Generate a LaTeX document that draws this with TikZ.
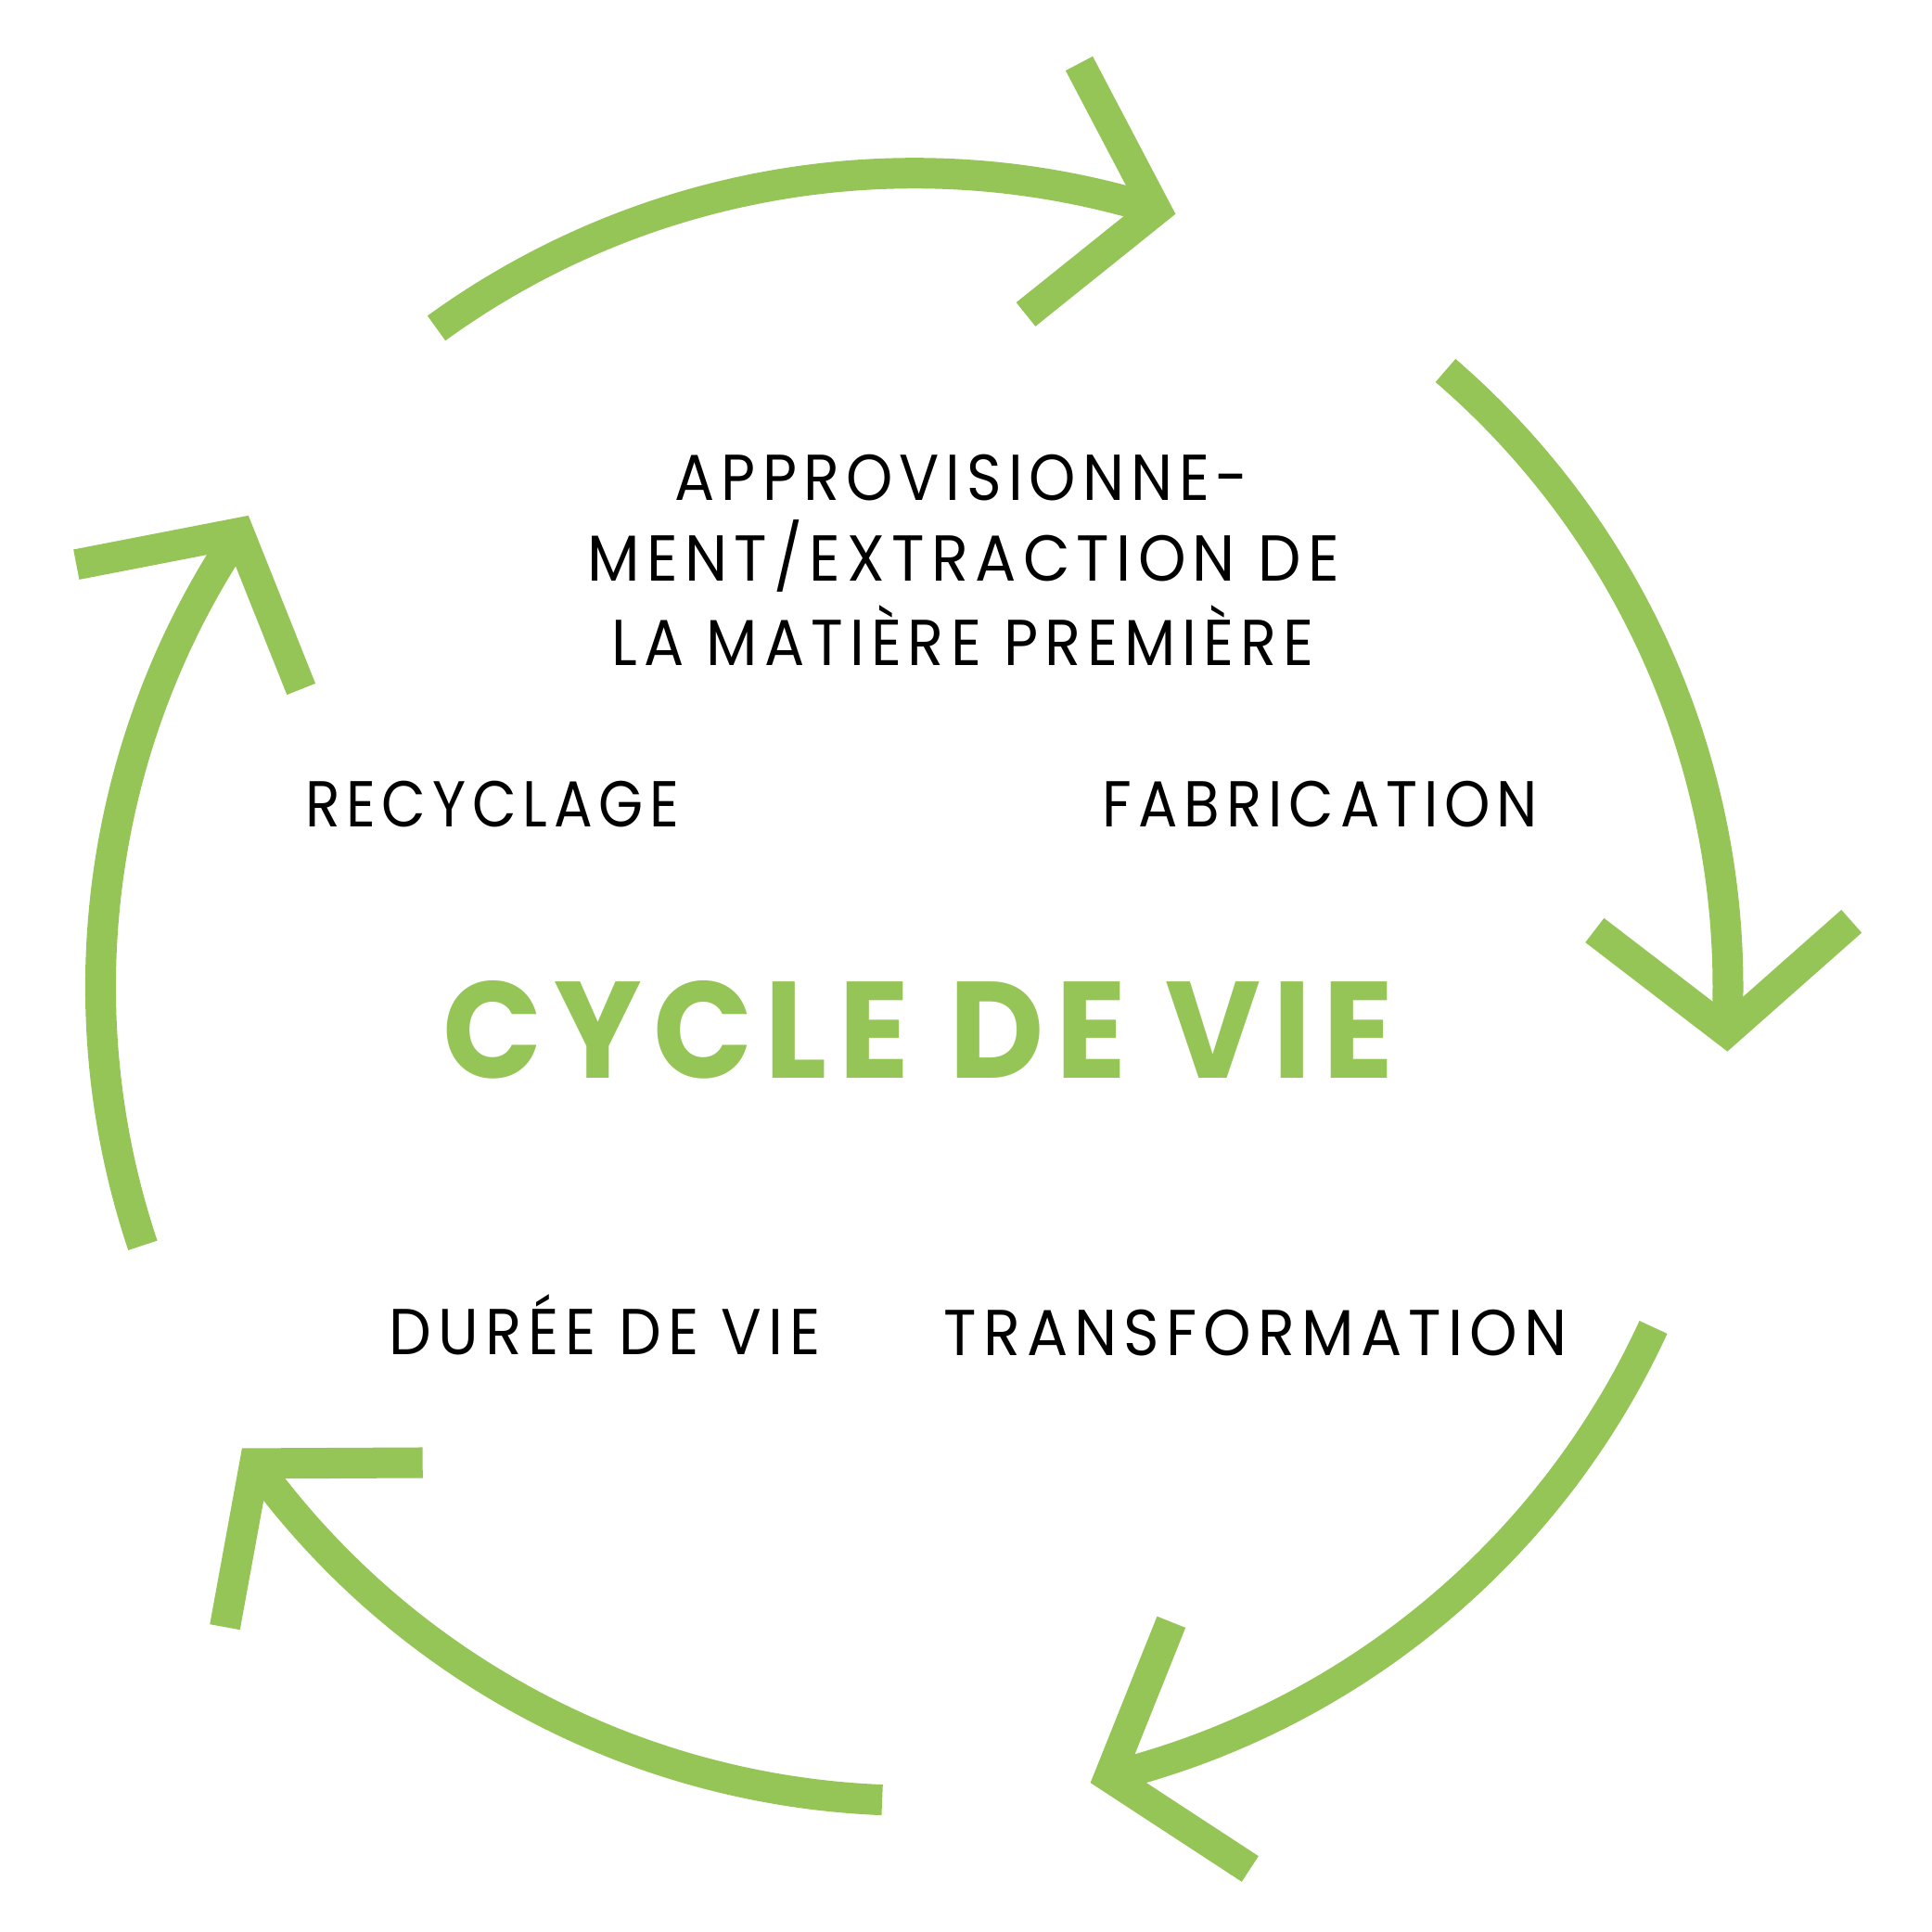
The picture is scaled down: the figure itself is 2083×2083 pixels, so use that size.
\documentclass[tikz,border=0pt]{standalone}
\usepackage{fontspec}
\usepackage{graphicx}
\setmainfont{Poppins}
\newfontfamily\lblfont[LetterSpace=11]{Poppins}
\newfontfamily\ttlfont[LetterSpace=9]{Poppins}
\definecolor{leaf}{RGB}{149,197,86}
\newcommand{\fitbox}[2]{\resizebox{#1}{\height}{#2}}
\begin{document}
\begin{tikzpicture}[x=0.01cm,y=0.01cm,
  arcline/.style={draw=leaf,line width=0.33cm,line cap=butt},
  headline/.style={arcline,line join=miter,miter limit=10},
  lbl/.style={inner sep=0pt,anchor=base,text=black,font=\lblfont\fontsize{19.9}{24}\selectfont},
  ttl/.style={inner sep=0pt,anchor=base,text=leaf,font=\ttlfont\bfseries\fontsize{42.1}{50}\selectfont}]
\useasboundingbox (0,0) rectangle (2083,2083);
\coordinate (C) at (985.7,1019);
% vertices of the arrow heads
\path (C) ++(72.71:8.768cm) coordinate (v1);
\path (C) ++(-3.155:8.768cm) coordinate (v2);
\path (C) ++(-76.13:8.768cm) coordinate (v3);
\path (C) ++(-144.14:8.768cm) coordinate (v4);
\path (C) ++(146.1:8.768cm) coordinate (v5);
% arm ends
\coordinate (a1) at (1163.5,2014.5); \coordinate (b1) at (1106,1744);
\coordinate (a2) at (1719.3,1080);   \coordinate (b2) at (1996.2,1089.7);
\coordinate (a3) at (1262.8,334.2);  \coordinate (b3) at (1347.8,68);
\coordinate (a4) at (455.7,506);     \coordinate (b4) at (242.5,328.8);
\coordinate (a5) at (82.3,1474.3);   \coordinate (b5) at (324.7,1340);
% arcs
\draw[arcline] (C) ++(125.96:8.768cm) arc[start angle=125.96,end angle=72.71,radius=8.768cm];
\draw[arcline] (C) ++(49.24:8.768cm) arc[start angle=49.24,end angle=-3.155,radius=8.768cm];
\draw[arcline] (C) ++(-24.73:8.768cm) arc[start angle=-24.73,end angle=-76.13,radius=8.768cm];
\draw[arcline] (C) ++(-92.26:8.768cm) arc[start angle=-92.26,end angle=-144.14,radius=8.768cm];
\draw[arcline] (C) ++(198.53:8.768cm) arc[start angle=198.53,end angle=146.1,radius=8.768cm];
% heads
\draw[headline] (a1) -- (v1) -- (b1);
\draw[headline] (a2) -- (v2) -- (b2);
\draw[headline] (a3) -- (v3) -- (b3);
\draw[headline] (a4) -- (v4) -- (b4);
\draw[headline] (a5) -- (v5) -- (b5);
% labels
\node[lbl] (t1) at (1037,1543.7) {\fitbox{6.18cm}{APPROVISIONNE-}};
\node[lbl] (t2) at (1038.8,1456) {\fitbox{8.10cm}{MENT/EXTRACTION DE}};
\node[lbl] (t3) at (1038,1365.7) {\fitbox{7.56cm}{LA MATIÈRE PREMIÈRE}};
\node[lbl] (rec) at (530.7,1191.6) {\fitbox{4.03cm}{RECYCLAGE}};
\node[lbl] (fab) at (1423.4,1191.6) {\fitbox{4.69cm}{FABRICATION}};
\node[ttl] (cyc) at (990,920.6) {\fitbox{10.25cm}{CYCLE DE VIE}};
\node[lbl] (dur) at (652.3,622) {\fitbox{4.65cm}{DURÉE DE VIE}};
\node[lbl] (tra) at (1353.6,621) {\fitbox{6.72cm}{TRANSFORMATION}};
\end{tikzpicture}
\end{document}
